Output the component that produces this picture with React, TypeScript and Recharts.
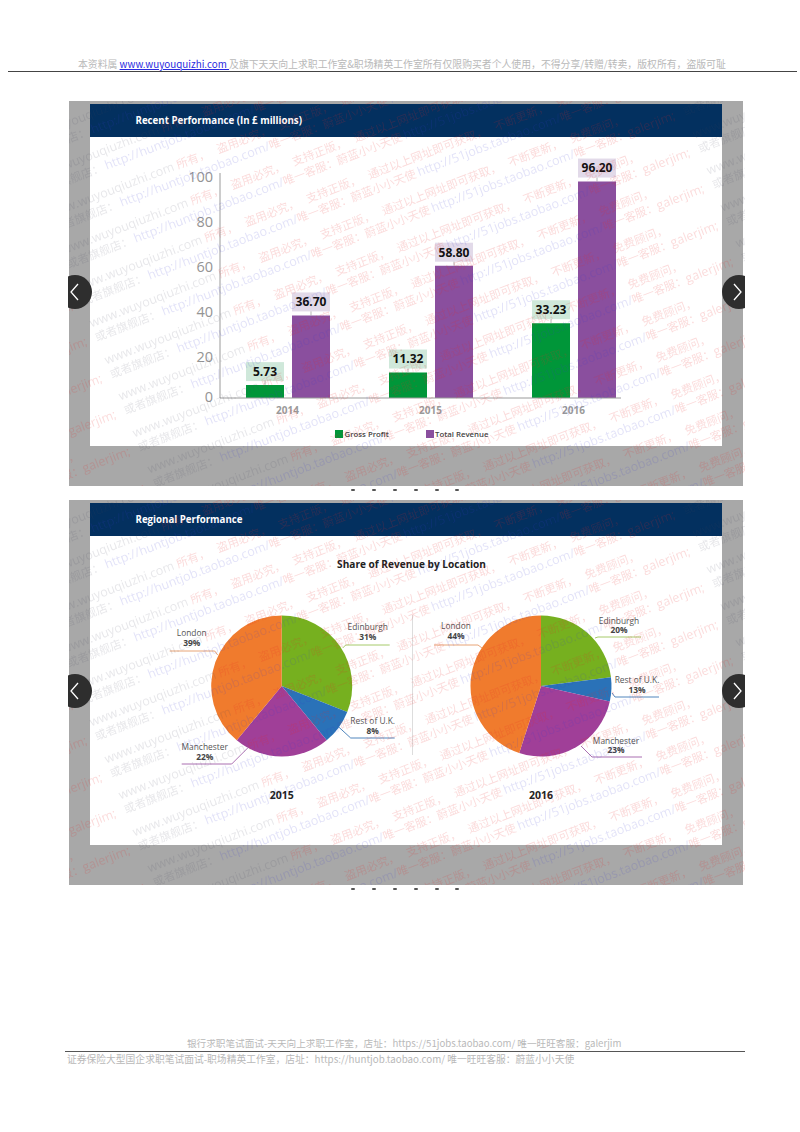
import React from "react";
import { Bar, BarChart, Cell, LabelList, Legend, Pie, PieChart, XAxis, YAxis } from "recharts";

// bar panel, values as printed above the bars (£ millions)
const years = ["2014", "2015", "2016"];
const grossProfit = [5.73, 11.32, 33.23];
const totalRevenue = [36.7, 58.8, 96.2];
const yTicks = [0, 20, 40, 60, 80, 100];

// pie panel
const locations = ["Edinburgh", "Rest of U.K.", "Manchester", "London"];
const share2015 = [31, 8, 22, 39];
const printed2016 = [20, 13, 23, 44];
// the 2016 slices in the picture do not follow their printed labels, so these are read off the angles
const slices2016 = [23, 5.5, 26.5, 45];

const barRows = years.map((year, i) => ({ year, gross: grossProfit[i], revenue: totalRevenue[i] }));
const pieRows = (values: number[]) => locations.map((name, i) => ({ name, value: values[i] }));

const FONT = "'Open Sans', sans-serif";
const CJK = "'Noto Sans CJK SC', sans-serif";
const NAVY = "#03305f";
const GREEN = "#009639";
const PURPLE = "#8a4f9e";
const SLICE_COLORS = ["#76b01f", "#2a72b8", "#a03f98", "#f07b2d"];
const LINE_COLORS = ["#9cc45a", "#3d78b5", "#a05fa8", "#e59a68"];

// label placement relative to each pie centre: text x, name y, percent y, leader line
const layout2015 = [
  { x: 86, y: -59, py: -49, line: "61,-38 64,-41 108,-41" },
  { x: 91, y: 35, py: 45, line: "57,41 69,52 113,52" },
  { x: -77, y: 61, py: 71, line: "-34,62 -50,78 -100,78" },
  { x: -90, y: -53, py: -43, line: "-112,-35 -67,-35 -64,-31" },
];
const layout2016 = [
  { x: 78, y: -65, py: -56, line: "54,-48 57,-49 100,-49" },
  { x: 96, y: -6, py: 4, line: "71,7 74,11 118,11" },
  { x: 75, y: 55, py: 64, line: "40,60 51,71 101,71" },
  { x: -85, y: -60, py: -50, line: "-107,-41 -63,-41 -59,-38" },
];

const WATERMARK_ROWS = Array.from({ length: 18 }, (_, i) => i - 3);
const WATERMARK_COPIES = [-1, 0, 1];
const PERIOD = 630;
const DOTS = [353, 374, 395, 416, 437, 457];

const wmBlue = "rgba(60,60,205,0.15)";
const wmRed = "rgba(232,40,40,0.17)";
const wmGrey = "rgba(70,70,90,0.13)";

function WatermarkSegment() {
  const line: React.CSSProperties = { height: 15, lineHeight: "15px", whiteSpace: "nowrap", overflow: "hidden" };
  return (
    <div style={{ width: PERIOD, flex: "none", fontFamily: CJK, fontSize: 11.5 }}>
      <div style={line}>
        <span style={{ color: wmGrey, fontFamily: FONT, fontSize: 12.5 }}>www.wuyouqiuzhi.com </span>
        <span style={{ color: wmRed, wordSpacing: 6 }}>所有， 盗用必究， 支持正版， 通过以上网址即可获取， 不断更新， 免费顾问，</span>
      </div>
      <div style={line}>
        <span style={{ color: wmGrey }}>或者旗舰店： </span>
        <span style={{ color: wmBlue, fontFamily: FONT, fontSize: 12.5 }}>http://huntjob.taobao.com/</span>
        <span style={{ color: wmRed }}>唯一客服：蔚蓝小小天使 </span>
        <span style={{ color: wmBlue, fontFamily: FONT, fontSize: 12.5 }}>http://51jobs.taobao.com/</span>
        <span style={{ color: wmRed }}>唯一客服：</span>
        <span style={{ color: wmRed, fontFamily: FONT, fontSize: 12.5 }}>galerjim;</span>
      </div>
    </div>
  );
}

function Watermark({ top }: { top: number }) {
  return (
    <div style={{ position: "absolute", left: 69, top, width: 676, height: 385, overflow: "hidden", filter: "blur(0.4px)" }}>
      {WATERMARK_ROWS.map((k) => (
        <div
          key={k}
          style={{
            position: "absolute",
            left: -24 + 14.3 * k,
            top: 106 + 36.5 * k,
            display: "flex",
            marginLeft: -PERIOD * 0.934,
            marginTop: PERIOD * 0.358,
            transform: "rotate(-21deg)",
            transformOrigin: "0 0",
          }}
        >
          {WATERMARK_COPIES.map((c) => (
            <WatermarkSegment key={c} />
          ))}
        </div>
      ))}
    </div>
  );
}

function NavButton({ side, y }: { side: "left" | "right"; y: number }) {
  const left = side === "left";
  return (
    <svg style={{ position: "absolute", left: left ? 68 : 721, top: y - 18 }} width={24} height={36}>
      <circle cx={left ? 7 : 18} cy={18} r={17} fill="#2e2e2e" />
      <polyline
        points={left ? "10,10 3,18 10,26" : "13,10 20,18 13,26"}
        fill="none"
        stroke="#fff"
        strokeWidth={1.3}
      />
    </svg>
  );
}

function Panel({ top, title, children }: { top: number; title: string; children: React.ReactNode }) {
  return (
    <>
      <div style={{ position: "absolute", left: 69, top, width: 674, height: 385, background: "#a8a8a8" }} />
      <div style={{ position: "absolute", left: 90, top: top + 3, width: 632, height: 33, background: NAVY }}>
        <div style={{ position: "absolute", left: 45.5, top: 10, color: "#fff", fontSize: 9.7, fontWeight: 700, whiteSpace: "nowrap" }}>
          {title}
        </div>
      </div>
      <div style={{ position: "absolute", left: 90, top: top + 36, width: 632, height: 309, background: "#fff" }} />
      {children}
      <Watermark top={top} />
      <NavButton side="left" y={top + 191} />
      <NavButton side="right" y={top + 191} />
      {DOTS.map((x) => (
        <div key={x} style={{ position: "absolute", left: x - 2, top: top + 388, width: 4, height: 2, borderRadius: 1, background: "#555" }} />
      ))}
    </>
  );
}

const barLabel = (tint: string) => (props: any) => {
  const { x, y, width, value } = props;
  const mid = x + width / 2;
  return (
    <g>
      <rect x={x} y={y - 23} width={width} height={19} fill={tint} />
      <line x1={mid} x2={mid} y1={y - 4} y2={y} stroke="#999" strokeWidth={0.7} />
      <text x={mid} y={y - 13.5} dy="0.36em" textAnchor="middle" fontSize={12} fontWeight={700} fill="#111" fontFamily={FONT}>
        {Number(value).toFixed(2)}
      </text>
    </g>
  );
};

const YTick = (props: any) => {
  const { x, y, payload } = props;
  return (
    <text x={x} y={y + (payload.value === 0 ? -1 : 3.3)} dy="0.36em" textAnchor="end" fontSize={14.5} fill="#949494" fontFamily={FONT}>
      {payload.value}
    </text>
  );
};

function BarLegend() {
  const item = (color: string, text: string, width: number) => (
    <div style={{ display: "flex", alignItems: "center", width }}>
      <span style={{ width: 8, height: 8, background: color, marginRight: 1.5 }} />
      <span style={{ fontSize: 7.8, fontWeight: 600, color: "#444", whiteSpace: "nowrap" }}>{text}</span>
    </div>
  );
  return (
    <div style={{ display: "flex", height: 17, fontFamily: FONT, alignItems: "flex-start", paddingTop: 1 }}>
      {item(GREEN, "Gross Profit", 90.5)}
      {item(PURPLE, "Total Revenue", 70)}
    </div>
  );
}

function PerformanceChart() {
  return (
    <div style={{ position: "absolute", left: 90, top: 137 }}>
      <BarChart
        width={632}
        height={309}
        data={barRows}
        barSize={38}
        barGap={8}
        margin={{ top: 36, right: 101, bottom: 0, left: 90 }}
      >
        <XAxis
          dataKey="year"
          height={30}
          padding={{ left: -4, right: -24 }}
          axisLine={{ stroke: "#9a9a9a" }}
          tickLine={false}
          tickSize={0}
          tickMargin={9}
          tick={{ fontSize: 10, fontWeight: 700, fill: "#9a9a9a", fontFamily: FONT }}
        />
        <YAxis
          width={40}
          domain={[0, 100]}
          ticks={yTicks}
          axisLine={{ stroke: "#9a9a9a" }}
          tickLine={false}
          tickSize={0}
          tickMargin={7}
          tick={YTick}
        />
        <Legend content={BarLegend} wrapperStyle={{ left: 245, width: 170, bottom: 0 }} />
        <Bar dataKey="gross" name="Gross Profit" fill={GREEN} isAnimationActive={false}>
          <LabelList dataKey="gross" content={barLabel("#cfe8da")} />
        </Bar>
        <Bar dataKey="revenue" name="Total Revenue" fill={PURPLE} isAnimationActive={false}>
          <LabelList dataKey="revenue" content={barLabel("#e2dae9")} />
        </Bar>
      </BarChart>
    </div>
  );
}

const pieLabel = (places: typeof layout2015, printed: number[]) => (props: any) => {
  const { cx, cy, index } = props;
  const p = places[index];
  return (
    <g fontFamily={FONT} textAnchor="middle">
      <polyline
        points={p.line}
        transform={`translate(${cx},${cy})`}
        fill="none"
        stroke={LINE_COLORS[index]}
        strokeWidth={0.9}
      />
      <text x={cx + p.x} y={cy + p.y} dy="0.36em" fontSize={8.4} fill="#555">
        {locations[index]}
      </text>
      <text x={cx + p.x} y={cy + p.py} dy="0.36em" fontSize={8.4} fontWeight={700} fill="#444">
        {printed[index]}%
      </text>
    </g>
  );
};

function RegionalChart() {
  const pieProps = {
    dataKey: "value",
    cy: 150,
    outerRadius: 70.5,
    startAngle: 90,
    endAngle: -270,
    stroke: "none",
    labelLine: false,
    isAnimationActive: false,
  };
  return (
    <div style={{ position: "absolute", left: 90, top: 535.5 }}>
      <PieChart width={632} height={309} margin={{ top: 0, right: 0, bottom: 0, left: 0 }}>
        <Pie {...pieProps} data={pieRows(share2015)} cx={191.7} label={pieLabel(layout2015, share2015)}>
          {share2015.map((_, i) => (
            <Cell key={i} fill={SLICE_COLORS[i]} />
          ))}
        </Pie>
        <Pie {...pieProps} data={pieRows(slices2016)} cx={451} label={pieLabel(layout2016, printed2016)}>
          {slices2016.map((_, i) => (
            <Cell key={i} fill={SLICE_COLORS[i]} />
          ))}
        </Pie>
      </PieChart>
    </div>
  );
}

function PageNote({ left, top, children, size }: { left: number; top: number; children: React.ReactNode; size: number }) {
  return (
    <div style={{ position: "absolute", left, top, fontFamily: CJK, fontSize: size, lineHeight: "14px", color: "#b9b9b9", whiteSpace: "nowrap" }}>
      {children}
    </div>
  );
}

export default function App() {
  const caption = (text: string, center: number, y: number, size: number) => (
    <div
      style={{
        position: "absolute",
        left: center - 150,
        width: 300,
        top: y - 8,
        lineHeight: "16px",
        textAlign: "center",
        fontSize: size,
        fontWeight: 700,
        color: "#222",
      }}
    >
      {text}
    </div>
  );
  return (
    <div style={{ position: "absolute", left: 0, top: 0, width: 800, height: 1132, overflow: "hidden", background: "#fff", fontFamily: FONT }}>
      <PageNote left={78} top={57} size={9.85}>
        本资料属 <span style={{ color: "#2a2ae0", textDecoration: "underline" }}>www.wuyouquizhi.com </span>
        及旗下天天向上求职工作室&职场精英工作室所有仅限购买者个人使用，不得分享/转赠/转卖，版权所有，盗版可耻
      </PageNote>
      <div style={{ position: "absolute", left: 8, top: 71, width: 789, height: 1.2, background: "#444" }} />

      <Panel top={101} title="Recent Performance (In £ millions)">
        <PerformanceChart />
      </Panel>

      <Panel top={500} title="Regional Performance">
        {caption("Share of Revenue by Location", 411.5, 563.7, 10.1)}
        <div style={{ position: "absolute", left: 411.5, top: 615, width: 1, height: 140, background: "#ddd" }} />
        <RegionalChart />
        {caption("2015", 281.7, 794.7, 10.5)}
        {caption("2016", 541, 794.7, 10.5)}
      </Panel>

      <PageNote left={187} top={1036} size={9.65}>
        银行求职笔试面试-天天向上求职工作室，店址：https://51jobs.taobao.com/ 唯一旺旺客服：galerjim
      </PageNote>
      <div style={{ position: "absolute", left: 65, top: 1051, width: 680, height: 1.2, background: "#555" }} />
      <PageNote left={67} top={1052} size={9.77}>
        证券保险大型国企求职笔试面试-职场精英工作室，店址：https://huntjob.taobao.com/ 唯一旺旺客服：蔚蓝小小天使
      </PageNote>
    </div>
  );
}
